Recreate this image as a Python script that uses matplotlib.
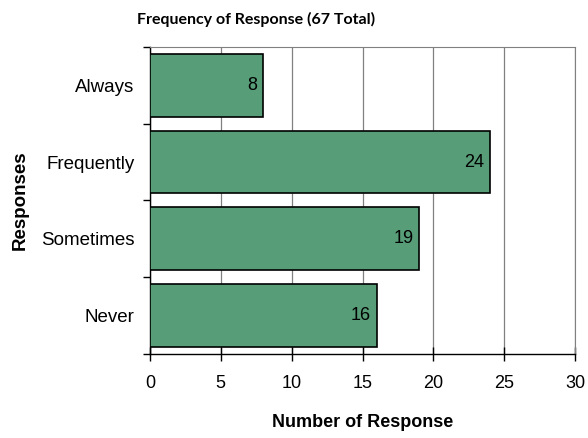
import matplotlib.pyplot as plt

categories = ['Never', 'Sometimes', 'Frequently', 'Always']
counts = [16, 19, 24, 8]
x_ticks = [0, 5, 10, 15, 20, 25, 30]

plt.rcParams['font.family'] = ['Liberation Sans', 'DejaVu Sans']

fig = plt.figure(figsize=(5.88, 4.38), dpi=100)
ax = fig.add_axes([0.255, 0.192, 0.723, 0.701])

pos = range(len(categories))
ax.barh(pos, counts, height=0.82, color='#579d78', edgecolor='black', linewidth=1.2, zorder=3)

for y, v in zip(pos, counts):
    ax.text(v - 0.4, y, str(v), ha='right', va='center', fontsize=13, zorder=4)

ax.set_xlim(0, 30)
ax.set_ylim(-0.5, len(categories) - 0.5)
ax.set_xticks(x_ticks)
ax.set_xticklabels([str(t) for t in x_ticks], fontsize=13)
ax.set_yticks(list(pos))
ax.set_yticklabels(categories, fontsize=13.5)
ax.tick_params(axis='y', length=0, pad=11)
ax.tick_params(axis='x', direction='inout', length=10, width=1, pad=10)

# category separators on the left axis
ax.set_yticks([i - 0.5 for i in range(len(categories) + 1)], minor=True)
ax.tick_params(axis='y', which='minor', direction='out', length=5, width=1)

ax.grid(axis='x', color='#808080', linewidth=0.9, zorder=0)
for s in ['top', 'right']:
    ax.spines[s].set_color('#808080')
for s in ['left', 'bottom']:
    ax.spines[s].set_color('black')
    ax.spines[s].set_linewidth(1.0)

ax.set_xlabel('Number of Response', fontsize=13, fontweight='bold', labelpad=16)
ax.set_ylabel('Responses', fontsize=13.5, fontweight='bold', labelpad=9)
fig.text(0.435, 0.955, 'Frequency of Response (67 Total)', ha='center', va='center',
         fontsize=11.5, fontweight='bold', family=['Lato', 'DejaVu Sans'])

fig.savefig('out.png', dpi=100)
